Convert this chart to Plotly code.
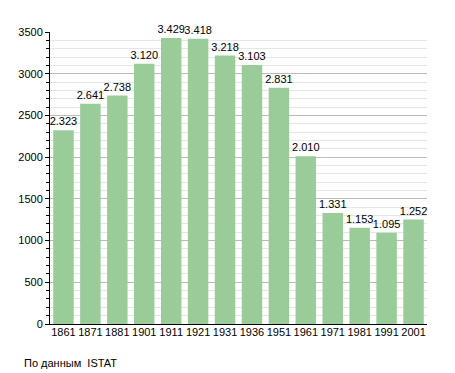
import plotly.graph_objects as go

years = ["1861", "1871", "1881", "1901", "1911", "1921", "1931", "1936", "1951", "1961", "1971", "1981", "1991", "2001"]
population = [2323, 2641, 2738, 3120, 3429, 3418, 3218, 3103, 2831, 2010, 1331, 1153, 1095, 1252]
labels = ["2.323", "2.641", "2.738", "3.120", "3.429", "3.418", "3.218", "3.103", "2.831", "2.010", "1.331", "1.153", "1.095", "1.252"]
y_ticks = [0, 500, 1000, 1500, 2000, 2500, 3000, 3500]

font = "Liberation Sans, Arial, sans-serif"

fig = go.Figure()
fig.add_trace(go.Bar(
    x=years, y=population, text=labels, textposition="outside",
    textfont=dict(family=font, size=11, color="#000"),
    marker=dict(color="#99cc99", line=dict(width=0)),
    cliponaxis=False, width=0.76, constraintext="none",
))
fig.update_layout(
    width=447, height=365,
    margin=dict(l=42, r=28, t=24, b=49, autoexpand=False),
    plot_bgcolor="white", paper_bgcolor="white",
    showlegend=False,
    font=dict(family=font, size=11, color="#000"),
    bargap=0.24,
)
fig.update_xaxes(
    type="category", showgrid=False, showline=True, linecolor="#000", linewidth=1,
    ticks="", tickfont=dict(family=font, size=11), automargin=False,
    ticklabelstandoff=-2,
)
fig.update_yaxes(
    range=[0, 3500], tickvals=y_ticks, showgrid=True, gridcolor="#bbbbbb", gridwidth=1,
    showline=True, linecolor="#000", linewidth=1, ticks="outside", ticklen=4, tickcolor="#000",
    tickfont=dict(family=font, size=11), automargin=False,
    minor=dict(dtick=100, showgrid=True, gridcolor="#e6e6e6", ticks="outside", ticklen=3, tickcolor="#000"),
    zeroline=False,
)
fig.add_annotation(
    text="По данным  ISTAT", xref="paper", yref="paper", x=-0.075, y=-0.105,
    xanchor="left", yanchor="top", showarrow=False, font=dict(family=font, size=11),
)
fig.write_html("out.html")
